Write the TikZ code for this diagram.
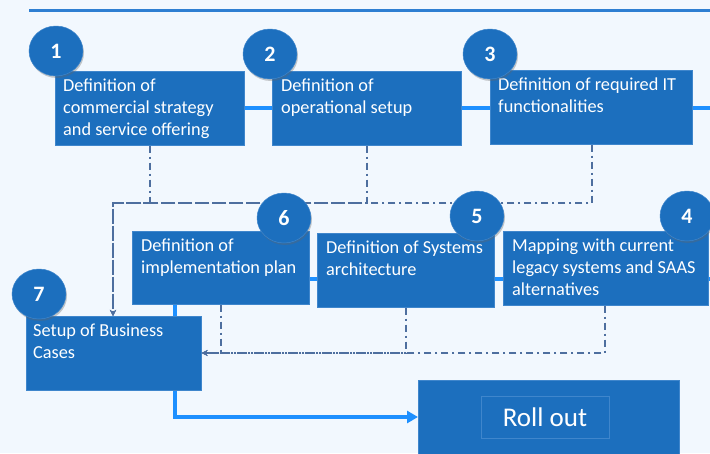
\documentclass[tikz,border=0pt]{standalone}
\usepackage{fontspec}
\setmainfont{Carlito}
\usetikzlibrary{arrows.meta,shadows,shapes.geometric}
\definecolor{bgc}{HTML}{F2F8FE}
\definecolor{boxc}{HTML}{1C6FBE}
\definecolor{boxedge}{HTML}{3F86CC}
\definecolor{linkc}{HTML}{1E90FF}
\definecolor{dashc}{HTML}{4E6F9F}
\definecolor{topc}{HTML}{2E7FD2}
\tikzset{
  stepbox/.style={rectangle, fill=boxc, draw=boxedge, line width=0.6pt, anchor=north west, inner sep=0pt},
  boxtext/.style={anchor=north west, inner sep=0pt, text=white, align=left,
    font=\fontsize{18.3}{21.7}\selectfont},
  numdisc/.style={ellipse, fill=boxc, draw=boxedge, line width=0.5pt, minimum width=54pt, minimum height=50pt,
    inner sep=0pt, text=white, font=\fontsize{22}{22}\selectfont\bfseries,
    drop shadow={shadow xshift=1pt, shadow yshift=-2pt, opacity=0.35, fill=black!60}},
  link/.style={draw=linkc, line width=4pt},
  dd/.style={draw=dashc, line width=2.3pt, dash pattern=on 7pt off 4pt on 2pt off 4pt,
    -{Stealth[length=6pt,width=6pt]}},
}
\begin{document}
\begin{tikzpicture}[x=1pt, y=-1pt]
\useasboundingbox (0,0) rectangle (710,453);
\fill[bgc] (0,0) rectangle (710,453);
\coordinate (tl) at (29,10);
\coordinate (tr) at (710,10);
\draw[topc, line width=3pt] (tl) -- (tr);

% boxes
\node[stepbox, minimum width=189pt, minimum height=74pt] (b1) at (55,71) {};
\node[stepbox, minimum width=189pt, minimum height=74pt] (b2) at (272,71) {};
\node[stepbox, minimum width=202pt, minimum height=74pt] (b3) at (490,70) {};
\node[stepbox, minimum width=205pt, minimum height=74pt] (b4) at (503,231) {};
\node[stepbox, minimum width=177pt, minimum height=74pt] (b5) at (317,233) {};
\node[stepbox, minimum width=177pt, minimum height=73pt] (b6) at (132,231) {};
\node[stepbox, minimum width=175pt, minimum height=74pt] (b7) at (26,316) {};
\node[stepbox, minimum width=261pt, minimum height=75pt] (ro) at (418,380) {};

% blue links
\coordinate (e3) at (710,108);
\coordinate (e4) at (710,279);
\coordinate (r2) at (0,279);
\coordinate (vx) at (175,0);
\coordinate (rl) at (0,417);
\draw[link] (b1.east) -- (b2.west);
\draw[link] (b2.east) -- (b2.east -| b3.west);
\draw[link] (b3.east |- e3) -- (e3);
\draw[link] (b6.east |- r2) -- (b5.west |- r2);
\draw[link] (b5.east |- r2) -- (b4.west |- r2);
\draw[link] (b4.east |- r2) -- (e4);
\draw[link] (vx |- b6.south) -- (vx |- b7.north);
\draw[link, -{Triangle[length=11pt,width=12pt]}] (vx |- b7.south) |- (ro.west |- rl);

% dashed feedback connectors
\coordinate (jt) at (113,203);
\coordinate (jb) at (0,353);
\coordinate (d1) at (150,0);
\coordinate (d2) at (367,0);
\coordinate (d3) at (592,0);
\coordinate (d4) at (605,0);
\coordinate (d5) at (406,0);
\coordinate (d6) at (221,0);
\draw[dd] (d1 |- b1.south) |- (jt) -- (jt |- b7.north);
\draw[dd] (d2 |- b2.south) |- (jt) -- (jt |- b7.north);
\draw[dd] (d3 |- b3.south) |- (jt) -- (jt |- b7.north);
\draw[dd] (d4 |- b4.south) |- (b7.east |- jb);
\draw[dd] (d5 |- b5.south) |- (b7.east |- jb);
\draw[dd] (d6 |- b6.south) |- (b7.east |- jb);

% texts
\node[boxtext] (t1) at ([shift={(8,8)}]b1.north west) {Definition of\\commercial strategy\\and service offering};
\node[boxtext] (t2) at ([shift={(9,8)}]b2.north west) {Definition of\\operational setup};
\node[boxtext] (t3) at ([shift={(8,8)}]b3.north west) {Definition of required IT\\functionalities};
\node[boxtext] (t4) at ([shift={(9,8)}]b4.north west) {Mapping with current\\legacy systems and SAAS\\alternatives};
\node[boxtext] (t5) at ([shift={(9,8)}]b5.north west) {Definition of Systems\\architecture};
\node[boxtext] (t6) at ([shift={(9,8)}]b6.north west) {Definition of\\implementation plan};
\node[boxtext] (t7) at ([shift={(7,8)}]b7.north west) {Setup of Business\\Cases};

% roll out
\node[draw=boxedge, line width=0.6pt, minimum width=128pt, minimum height=42pt, inner sep=0pt,
  text=white, font=\fontsize{27}{27}\selectfont] (rt) at (545,417) {Roll out};

% number discs
\node[numdisc] (c1) at (56,51) {1};
\node[numdisc] (c2) at (270,54) {2};
\node[numdisc] (c3) at (490,54) {3};
\node[numdisc] (c4) at (687,216) {4};
\node[numdisc] (c5) at (477,216) {5};
\node[numdisc] (c6) at (284,218) {6};
\node[numdisc] (c7) at (39,294) {7};
\end{tikzpicture}
\end{document}
